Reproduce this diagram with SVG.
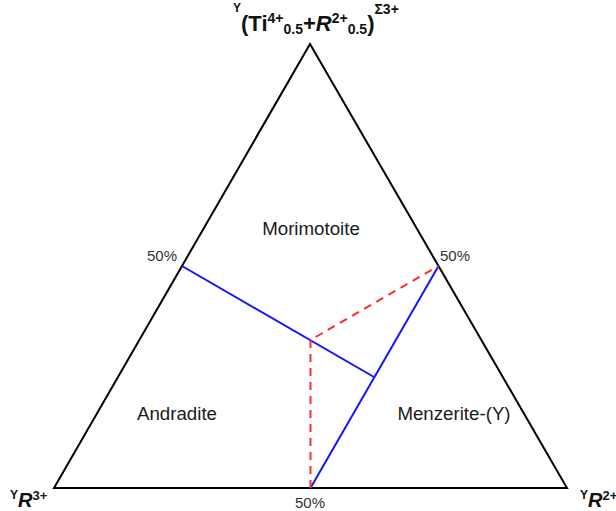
<svg xmlns="http://www.w3.org/2000/svg" width="616" height="511" viewBox="0 0 616 511">
<style>
.tri{fill:none;stroke:#000;stroke-width:2;stroke-linejoin:miter}
.blue{stroke:#1414ff;stroke-width:2;fill:none}
.red{stroke:#ff2a2a;stroke-width:2;fill:none;stroke-dasharray:8,6}
.lbl{font-family:"Liberation Sans",Arial,sans-serif;font-size:18.7px;fill:#1a1a1a}
.pct{font-family:"Liberation Sans",Arial,sans-serif;font-size:15px;fill:#333}
.ax{font-family:"Liberation Sans",Arial,sans-serif;font-weight:bold;fill:#111}
</style>
<rect width="616" height="511" fill="#fff"/>
<g id="triangle">
<polygon class="tri" points="310,44 54,488 567,488"/>
</g>
<g id="connectors">
<line class="blue" x1="182" y1="266" x2="374" y2="377"/>
<line class="blue" x1="310.5" y1="488" x2="438.5" y2="266"/>
<polyline class="red" points="310.5,488 310.5,340 438.5,266"/>
</g>
<g id="apex-label">
<text class="ax" x="233" y="31"><tspan font-size="12" y="12">Y</tspan><tspan font-size="22" y="31">(Ti</tspan><tspan font-size="14" y="23">4+</tspan><tspan font-size="14" y="34">0.5</tspan><tspan font-size="22" y="31">+</tspan><tspan font-size="22" y="31" font-style="italic">R</tspan><tspan font-size="14" y="23">2+</tspan><tspan font-size="14" y="34">0.5</tspan><tspan font-size="22" y="31">)</tspan><tspan font-size="14" y="14">Σ3+</tspan></text>
</g>
<g id="left-label">
<text class="ax" x="10" y="507"><tspan font-size="12" y="499">Y</tspan><tspan font-size="20" y="507" font-style="italic">R</tspan><tspan font-size="13" y="500">3+</tspan></text>
</g>
<g id="right-label">
<text class="ax" x="580" y="507"><tspan font-size="12" y="499">Y</tspan><tspan font-size="20" y="507" font-style="italic">R</tspan><tspan font-size="13" y="500">2+</tspan></text>
</g>
<g id="pct-left"><text class="pct" x="147" y="261">50%</text></g>
<g id="pct-right"><text class="pct" x="440" y="261">50%</text></g>
<g id="pct-bottom"><text class="pct" x="310" y="508" text-anchor="middle">50%</text></g>
<g id="morimotoite"><text class="lbl" x="311" y="235" text-anchor="middle">Morimotoite</text></g>
<g id="andradite"><text class="lbl" x="177" y="420" text-anchor="middle">Andradite</text></g>
<g id="menzerite"><text class="lbl" x="454" y="420" text-anchor="middle">Menzerite-(Y)</text></g>
</svg>
